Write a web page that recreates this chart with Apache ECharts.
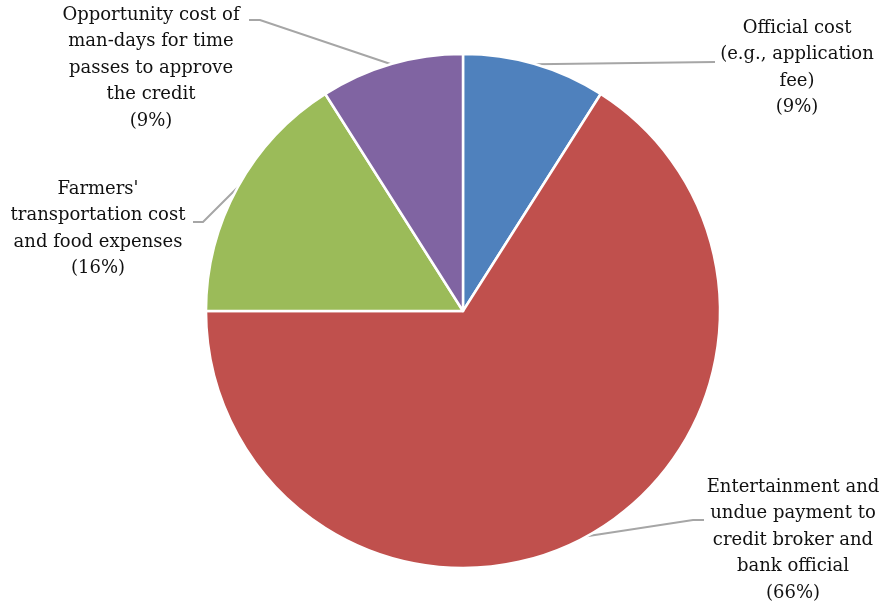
<!DOCTYPE html>
<html>
<head>
<meta charset="utf-8">
<script src="https://cdn.jsdelivr.net/npm/echarts@6/dist/echarts.min.js"></script>
<style>
html,body{margin:0;padding:0;background:#fff;}
#chart{width:886px;height:608px;}
</style>
</head>
<body>
<div id="chart"></div>
<script>
const categories = [
  "Official cost\n(e.g., application\nfee)",
  "Entertainment and\nundue payment to\ncredit broker and\nbank official",
  "Farmers'\ntransportation cost\nand food expenses",
  "Opportunity cost of\nman-days for time\npasses to approve\nthe credit"
];
const shares = [9, 66, 16, 9];
const colors = ["#4F81BD", "#C0504D", "#9BBB59", "#8064A2"];

// label placement (layout only): label centre and label-line bend/end points
const labelPlacement = [
  {x: 797, y: 68,  bend: [715, 62],  end: [715, 62]},
  {x: 793, y: 540, bend: [693, 520], end: [704, 520]},
  {x: 98,  y: 229, bend: [203, 222], end: [193, 222]},
  {x: 151, y: 68,  bend: [260, 20],  end: [249, 20]}
];

const chart = echarts.init(document.getElementById('chart'), null, {renderer: 'canvas'});
chart.setOption({
  animation: false,
  backgroundColor: '#fff',
  series: [{
    type: 'pie',
    center: [463, 311],
    radius: 257,
    startAngle: 90,
    clockwise: true,
    avoidLabelOverlap: false,
    percentPrecision: 0,
    data: categories.map((c, i) => ({name: c, value: shares[i], itemStyle: {color: colors[i]}})),
    itemStyle: {borderColor: '#fff', borderWidth: 2.5},
    label: {
      show: true,
      position: 'outside',
      formatter: '{b}\n({d}%)',
      fontFamily: '"Palatino Linotype", "Book Antiqua", Palatino, "DejaVu Serif", serif',
      fontSize: 18,
      lineHeight: 26.5,
      color: '#111',
      align: 'center'
    },
    labelLine: {
      show: true,
      length: 10,
      length2: 10,
      lineStyle: {color: '#A6A6A6', width: 2}
    },
    emphasis: {disabled: true},
    labelLayout: function (params) {
      const p = labelPlacement[params.dataIndex];
      const start = params.labelLinePoints ? params.labelLinePoints[0] : p.bend;
      return {
        x: p.x,
        y: p.y,
        align: 'center',
        verticalAlign: 'middle',
        labelLinePoints: [start, p.bend, p.end]
      };
    }
  }]
});
</script>
</body>
</html>
